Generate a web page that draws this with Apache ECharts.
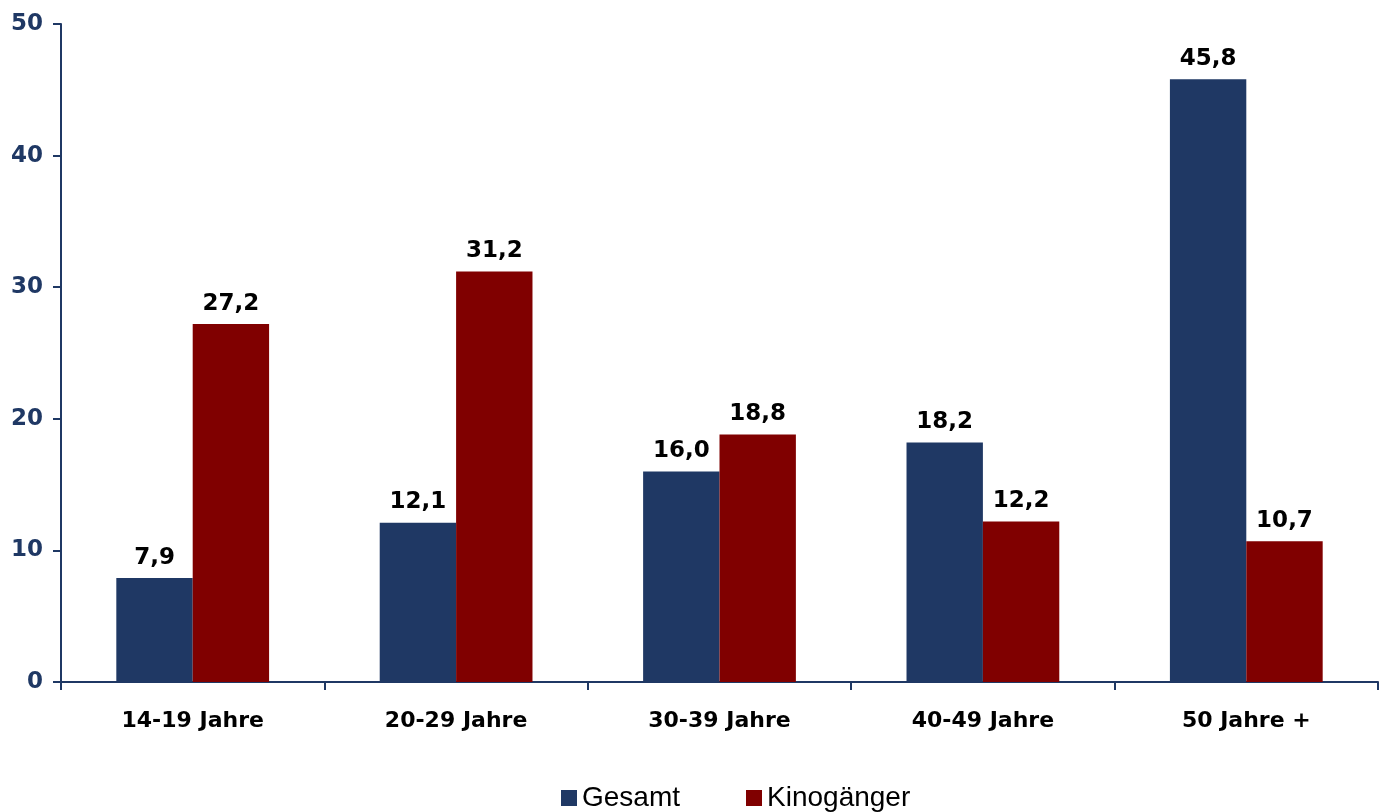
<!DOCTYPE html>
<html><head><meta charset="utf-8">
<script src="https://cdn.jsdelivr.net/npm/echarts@6/dist/echarts.min.js"></script>
<style>html,body{margin:0;padding:0;background:#fff}#c{width:1388px;height:812px}</style>
</head><body><div id="c"></div>
<script>
const categories = ['14-19 Jahre','20-29 Jahre','30-39 Jahre','40-49 Jahre','50 Jahre +'];
const gesamt = [7.9, 12.1, 16.0, 18.2, 45.8];
const kino = [27.2, 31.2, 18.8, 12.2, 10.7];
const seriesNames = ['Gesamt','Kinogänger'];
const axisColor = '#1F3864';
const chart = echarts.init(document.getElementById('c'));
const fmt = p => p.value.toFixed(1).replace('.', ',');
const lbl = {show:true, position:'top', distance:9, color:'#000', fontFamily:'DejaVu Sans', fontWeight:'bold', fontSize:23, formatter:fmt};
chart.setOption({
  animation:false,
  grid:{left:61, right:10, top:24, bottom:130},
  legend:{top:779, left:556, itemWidth:16, itemHeight:16, itemGap:66, icon:'rect',
    textStyle:{fontFamily:'Liberation Sans', fontSize:28, color:'#000'}, data:seriesNames},
  xAxis:{type:'category', data:categories,
    axisLine:{lineStyle:{color:axisColor, width:2}},
    axisTick:{show:true, length:8, lineStyle:{color:axisColor, width:2}},
    axisLabel:{color:'#000', fontFamily:'DejaVu Sans', fontWeight:'bold', fontSize:22, margin:28}},
  yAxis:{type:'value', min:0, max:50, interval:10,
    axisLine:{show:true, lineStyle:{color:axisColor, width:2}},
    axisTick:{show:true, length:8, lineStyle:{color:axisColor, width:2}},
    splitLine:{show:false},
    axisLabel:{color:axisColor, fontFamily:'DejaVu Sans', fontWeight:'bold', fontSize:23, margin:18}},
  series:[
    {name:seriesNames[0], type:'bar', data:gesamt, barGap:'0%', barCategoryGap:'42%', itemStyle:{color:'#1F3864'}, label:lbl},
    {name:seriesNames[1], type:'bar', data:kino, barGap:'0%', barCategoryGap:'42%', itemStyle:{color:'#800000'}, label:lbl}
  ]
});
</script></body></html>
